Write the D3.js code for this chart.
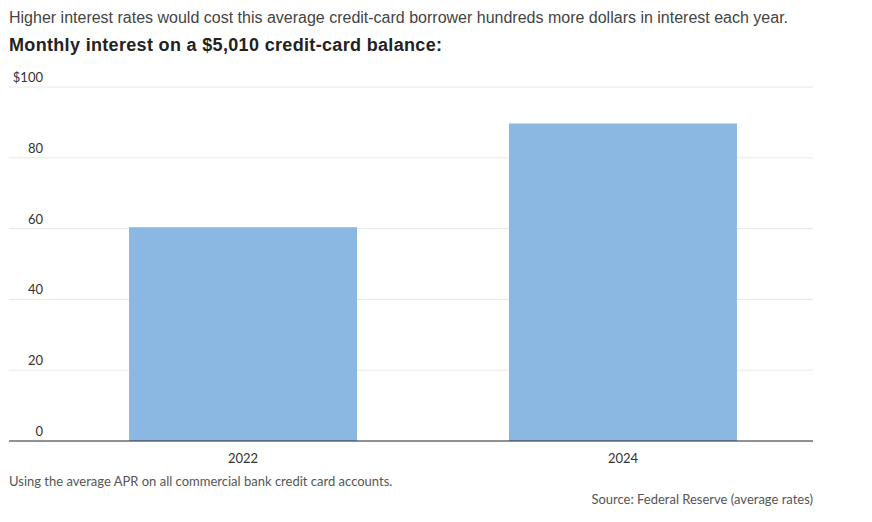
<!DOCTYPE html>
<html>
<head>
<meta charset="utf-8">
<script src="https://cdn.jsdelivr.net/npm/d3@7"></script>
<style>
  body { margin: 0; background: #fff; }
  svg { display: block; }
</style>
</head>
<body>
<svg></svg>
<script>
var WIDTH = 872;
var HEIGHT = 522;

// data
var years = ['2022', '2024'];
var interest = [60.4, 89.7];
var yTicks = [0, 20, 40, 60, 80, 100];

var subtitle = 'Higher interest rates would cost this average credit-card borrower hundreds more dollars in interest each year.';
var title = 'Monthly interest on a $5,010 credit-card balance:';
var note = 'Using the average APR on all commercial bank credit card accounts.';
var source = 'Source: Federal Reserve (average rates)';

var svg = d3.select('svg')
  .attr('width', WIDTH)
  .attr('height', HEIGHT);

// "top" is taken by window.top, so plot edges get their own names
var plotLeft = 9, plotRight = 813, plotTop = 87, plotBottom = 441;

var yScale = d3.scaleLinear()
  .domain([0, 100])
  .range([plotBottom, plotTop]);

var xScale = d3.scaleBand()
  .domain(years)
  .range([9, 857])
  .paddingInner(0.4)
  .paddingOuter(0.316);

svg.append('text')
  .attr('x', 9).attr('y', 23)
  .style('font-family', 'Arial, "Liberation Sans", sans-serif')
  .style('font-size', '16px')
  .style('fill', '#444')
  .text(subtitle);

svg.append('text')
  .attr('x', 9).attr('y', 51)
  .style('font-family', 'Arial, "Liberation Sans", sans-serif')
  .style('font-size', '18px')
  .style('letter-spacing', '0.33px')
  .style('font-weight', 'bold')
  .style('fill', '#222')
  .text(title);

// gridlines
svg.append('g').selectAll('line')
  .data(yTicks.filter(function(d){ return d > 0; }))
  .enter()
  .append('line')
  .attr('x1', plotLeft).attr('x2', plotRight)
  .attr('y1', function(d){ return yScale(d); })
  .attr('y2', function(d){ return yScale(d); })
  .attr('stroke', '#e8e8e8')
  .attr('stroke-width', 1);

// tick labels sit above the gridlines
svg.append('g').selectAll('text')
  .data(yTicks)
  .enter()
  .append('text')
  .attr('x', 43)
  .attr('y', function(d){ return yScale(d) - 5; })
  .attr('text-anchor', 'end')
  .style('font-family', 'Lato, sans-serif')
  .style('font-size', '13px')
  .style('fill', '#333')
  .text(function(d){ return d === 100 ? '$' + d : d; });

svg.append('g').selectAll('rect')
  .data(interest)
  .enter()
  .append('rect')
  .attr('x', function(d, i){ return xScale(years[i]); })
  .attr('width', xScale.bandwidth())
  .attr('y', function(d){ return yScale(d); })
  .attr('height', function(d){ return yScale(0) - yScale(d); })
  .attr('fill', '#8ab8e2');

// baseline
svg.append('line')
  .attr('x1', plotLeft).attr('x2', plotRight)
  .attr('y1', plotBottom).attr('y2', plotBottom)
  .attr('stroke', '#222')
  .attr('stroke-width', 1);

svg.append('g').selectAll('text')
  .data(years)
  .enter()
  .append('text')
  .attr('x', function(d){ return xScale(d) + xScale.bandwidth() / 2; })
  .attr('y', 463)
  .attr('text-anchor', 'middle')
  .style('font-family', 'Lato, sans-serif')
  .style('font-size', '13px')
  .style('fill', '#333')
  .text(function(d){ return d; });

svg.append('text')
  .attr('x', 9).attr('y', 486)
  .style('font-family', 'Lato, sans-serif')
  .style('font-size', '13px')
  .style('fill', '#555')
  .text(note);

svg.append('text')
  .attr('x', plotRight).attr('y', 504)
  .attr('text-anchor', 'end')
  .style('font-family', 'Lato, sans-serif')
  .style('font-size', '13px')
  .style('fill', '#555')
  .text(source);
</script>
</body>
</html>
